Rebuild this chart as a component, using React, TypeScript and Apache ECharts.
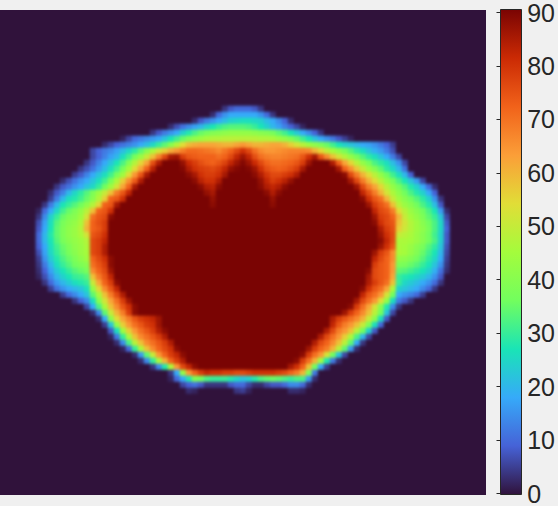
import React, { useEffect, useRef } from "react";
import * as echarts from "echarts";

// Colour scale (turbo) and its range
const scaleMin = 0;
const scaleMax = 90;
const scaleTick = 10;
const turboStops = ["#30123b", "#4662d7", "#36aaf9", "#1ae4b6", "#72fe5e", "#a4fc3c", "#e1dd37", "#fb9e38", "#f1621a", "#cb2a04", "#7a0403"];

const colCount = 81;
const rowCount = 81;
const firstRow = 16;
const coreFirstRow = 25;
const coreLastRow = 59;

// Values, row by row. Each segment: [first column, ...values].
// Cells outside the segments are 0; gaps between the segments of a row are the saturated core (90).
const measuredRows: number[][][] = [
  [[37,4,8,10,10,10,8,4]],
  [[35,3,10,15,18,18,18,18,18,15,10,4]],
  [[32,3,8,12,15,18,21,24,25,26,26,25,24,21,18,14,9,3]],
  [[28,3,7,11,14,17,20,24,27,30,32,33,33,33,32,30,27,24,20,17,13,9,6,2]],
  [[25,4,8,12,15,18,24,28,32,35,37,39,40,41,42,42,42,42,41,40,39,37,34,31,27,23,18,14,9,4]],
  [[20,2,6,10,12,14,16,18,22,27,31,35,39,42,44,46,47,47,48,48,48,48,48,48,47,47,46,44,42,39,35,31,27,22,18,15,12,8,5,2]],
  [[17,3,6,9,11,13,15,18,21,25,30,34,40,47,54,59,61,62,62,62,61,60,60,62,64,62,60,60,61,62,62,60,56,52,48,44,41,38,35,31,27,24,22,20,18,17,15,12,9,5]],
  [[15,6,9,12,14,17,21,25,29,34,40,46,52,56,61,64,68,71,71,70,69,68,66,69,72,76,80,76,70,66,64,64,65,66,67,67,67,66,60,55,49,45,41,37,33,29,26,22,19,16,12,7]],
  [[15,6,9,13,17,20,26,31,37,43,50,58,67,76,85,86,78,74,73,72,72,72,70,72,76,82,86,82,75,70,68,67,67,68,69,70,74,80,85,74,66,58,52,47,42,37,33,29,26,22,18,12,6]],
  [[14,4,8,13,18,22,27,32,39,47,55,62,75,84],[30,87,81,78,75,73,72,74,77,82,86,89,86,81,76,72,70,70,71,72,74,78,86],[55,84,72,62,55,48,42,37,32,29,26,21,15,6]],
  [[13,4,7,11,16,21,26,31,37,45,54,62,72,83],[30,89,84,80,78,77,76,78,82,87,89,90,89,86,80,75,73,72,73,75,78,85],[56,85,72,65,57,50,44,39,34,29,25,20,11]],
  [[12,5,8,13,18,22,26,31,37,44,54,64,74,85],[31,88,85,80,78,78,80,85],[42,88,84,79,76,76,78,80,84],[57,88,76,68,60,54,48,42,36,31,26,20,9]],
  [[10,3,7,11,15,18,22,26,31,37,46,56,65,73,84],[32,88,83,80,80,84],[43,87,82,78,80,83,87],[58,85,76,68,60,54,48,42,37,32,27,22,16,6]],
  [[9,4,8,11,15,18,22,25,30,36,44,52,62,72,85],[33,88,84,83,88],[43,88,84,82,84,88],[59,86,76,68,62,55,48,42,37,33,28,24,18,10,3]],
  [[8,3,8,13,20,25,29,33,38,44,50,58,68,74,82],[34,87,85],[44,88,84,88],[60,82,75,68,60,52,46,41,36,32,28,24,18,9]],
  [[8,5,12,20,26,28,31,35,40,47,56,72,74,80],[35,87],[45,87],[60,88,80,74,70,60,50,44,40,36,33,29,24,15,4]],
  [[7,4,12,20,27,30,33,36,41,47,55,72,74,85],[35,88],[45,88],[61,86,78,74,70,58,48,43,40,36,32,28,21,8]],
  [[6,2,10,18,25,31,35,38,42,48,58,72,74,80],[62,82,76,74,68,54,48,43,40,36,32,27,16,3]],
  [[6,4,14,24,30,35,38,40,44,52,70,74,76,88],[62,86,78,76,72,60,50,45,42,38,34,30,22,6]],
  [[6,7,17,26,33,37,40,42,46,58,72,75,78],[62,88,80,76,74,58,52,47,44,40,36,32,25,8]],
  [[6,8,18,27,34,38,41,43,47,60,72,74,78],[63,84,78,75,56,51,47,44,41,37,32,25,9]],
  [[6,10,20,28,34,38,41,43,46,52,74,76,80],[63,86,80,76,50,48,46,43,40,36,31,24,8]],
  [[6,10,20,27,33,37,40,42,44,47,76,78,82],[63,88,82,76,46,46,45,43,40,36,32,24,8]],
  [[6,9,18,26,31,35,38,41,43,46,76,78,84],[63,86,80,74,46,45,43,40,37,33,29,22,7]],
  [[6,7,17,25,30,34,37,40,43,45,76,78,84],[62,86,78,74,66,46,45,42,39,35,31,27,20,6]],
  [[6,5,15,23,28,32,35,38,41,44,72,76,80,88],[62,82,76,72,66,42,41,39,36,33,29,25,18,5]],
  [[6,4,12,20,26,30,33,36,38,40,70,74,78,88],[62,78,74,72,64,38,37,35,33,30,27,22,15,4]],
  [[6,3,9,17,23,27,30,33,35,37,66,72,76,86],[61,88,76,74,72,64,34,33,31,29,27,24,19,11,3]],
  [[6,2,7,14,20,24,27,30,31,33,58,68,74,82],[61,85,76,74,72,62,30,28,27,25,23,20,15,8]],
  [[7,4,10,16,20,23,26,28,30,50,62,72,78,88],[61,84,78,74,70,58,30,25,23,21,18,15,10,4]],
  [[8,5,11,15,18,20,22,26,42,55,66,74,82],[60,88,80,74,70,62,46,24,22,20,18,14,10,4]],
  [[10,5,10,14,18,22,34,46,58,68,76,84],[60,82,74,70,64,52,36,18,15,13,10,5]],
  [[12,4,9,14,26,40,52,62,70,78,86],[59,85,76,70,64,54,42,26,12,8,4]],
  [[14,6,18,32,46,58,66,74,80,88],[58,88,78,70,62,52,40,28,14,4]],
  [[15,3,14,34,50,60,68,78,88],[57,86,78,72,66,58,48,36,22,6]],
  [[16,3,18,40,54,62,68,74,78,80,82,86],[55,84,78,74,70,66,60,50,40,26,8]],
  [[17,5,22,42,56,64,70,74,78,80,86],[55,82,74,68,64,58,50,38,26,10]],
  [[18,8,26,44,56,64,70,74,78,84,88],[54,84,76,68,64,58,48,36,24,8]],
  [[18,2,12,30,46,58,66,70,74,78,84],[53,84,76,70,64,56,46,32,20,6]],
  [[19,3,14,32,48,58,66,70,74,78,84],[52,84,76,72,66,58,48,34,18,4]],
  [[20,2,10,30,46,58,66,72,76,80,88],[51,86,78,72,68,60,48,34,16,3]],
  [[22,3,16,34,50,64,72,78,82,88],[50,88,78,70,64,52,36,22,6]],
  [[23,3,14,30,46,60,72,78,84],[49,88,78,70,60,44,28,12,3]],
  [[25,4,14,28,46,64,76,82,88],[48,85,80,72,58,36,18,5]],
  [[28,4,18,42,64,72,78,82,80,80,78,78,76,76,78,80,80,80,80,78,76,72,68,60,38,12]],
  [[28,2,10,18,28,38,36,32,30,30,30,28,25,22,24,28,32,34,35,34,32,30,32,32,16,3]],
  [[30,6,9,11,8,4,4,4,4,8,10,10,6,3,3,6,8,8,10,14,14,10,3]],
  [[31,3,2,0,0,0,0,0,0,4,5,2,0,0,0,0,0,0,3,3,2]],
];

function buildCells(): number[][] {
  const grid: number[][] = Array.from({ length: rowCount }, () => new Array(colCount).fill(0));
  measuredRows.forEach((segments, i) => {
    const r = firstRow + i;
    segments.forEach((seg, k) => {
      const start = seg[0];
      seg.slice(1).forEach((v, n) => {
        grid[r][start + n] = v;
      });
      if (r >= coreFirstRow && r <= coreLastRow && k + 1 < segments.length) {
        for (let c = start + seg.length - 1; c < segments[k + 1][0]; c++) grid[r][c] = scaleMax;
      }
    });
  });
  const out: number[][] = [];
  grid.forEach((row, r) => row.forEach((v, c) => out.push([c, r, v])));
  return out;
}

export default function App() {
  const mapRef = useRef<HTMLDivElement>(null);
  const barRef = useRef<HTMLDivElement>(null);
  useEffect(() => {
    document.body.style.margin = "0";
    document.body.style.background = "#f0f0f0";
    const mapChart = echarts.init(mapRef.current!, null, { renderer: "svg" });
    const barChart = echarts.init(barRef.current!, null, { renderer: "svg" });
    const idx = (n: number) => Array.from({ length: n }, (_, i) => String(i));
    mapChart.setOption({
      animation: false,
      backgroundColor: turboStops[0],
      tooltip: { show: false },
      grid: { left: 12, top: 12, width: 486, height: 486 },
      xAxis: { type: "category", data: idx(colCount), show: false },
      yAxis: { type: "category", data: idx(rowCount), show: false, inverse: true },
      visualMap: { show: false, type: "continuous", min: scaleMin, max: scaleMax, inRange: { color: turboStops } },
      series: [
        {
          type: "heatmap",
          data: buildCells(),
          progressive: 0,
          silent: true,
          itemStyle: { borderWidth: 0 },
          emphasis: { disabled: true },
        },
      ],
    });
    barChart.setOption({
      animation: false,
      backgroundColor: "transparent",
      tooltip: { show: false },
      graphic: [
        {
          type: "rect",
          z: 0,
          shape: { x: 500.5, y: 9.5, width: 21, height: 485 },
          style: {
            stroke: "#262626",
            lineWidth: 1,
            fill: new echarts.graphic.LinearGradient(
              0, 1, 0, 0,
              turboStops.map((color, i) => ({ offset: i / (turboStops.length - 1), color }))
            ),
          },
        },
      ],
      grid: { left: 500.5, top: 9.5, width: 21, height: 485, show: false },
      xAxis: { type: "value", show: false, min: 0, max: 1 },
      yAxis: {
        type: "value",
        position: "right",
        min: scaleMin,
        max: scaleMax,
        interval: scaleTick,
        z: 6,
        splitLine: { show: false },
        axisLine: { show: false },
        axisTick: { show: true, inside: true, length: 4, lineStyle: { color: "#262626", width: 1 } },
        axisLabel: { color: "#262626", fontSize: 25, fontFamily: "Liberation Sans", margin: 9 },
      },
      series: [],
    });
    return () => {
      mapChart.dispose();
      barChart.dispose();
    };
  }, []);
  return (
    <div style={{ position: "relative", width: 558, height: 506, overflow: "hidden", background: "#f0f0f0" }}>
      <div style={{ position: "absolute", left: 0, top: 10, width: 486, height: 485, overflow: "hidden" }}>
        <div ref={mapRef} style={{ position: "absolute", left: -12, top: -12, width: 510, height: 510, filter: "blur(1.6px)" }} />
      </div>
      <div ref={barRef} style={{ position: "absolute", left: 0, top: 0, width: 558, height: 506 }} />
    </div>
  );
}
